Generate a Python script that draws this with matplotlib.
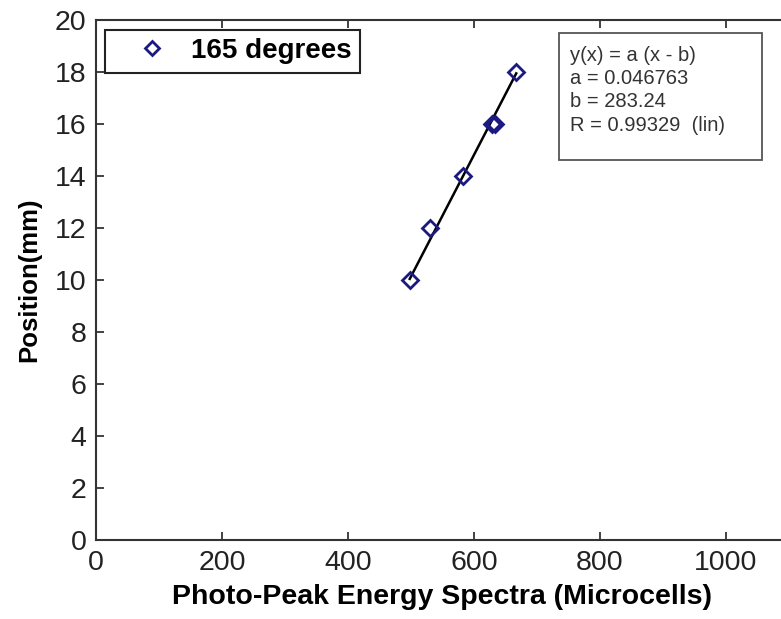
import numpy as np
import matplotlib
matplotlib.use("Agg")
import matplotlib.pyplot as plt
from matplotlib.patches import Rectangle
from matplotlib.lines import Line2D

# data
energy = [498, 530, 583, 629, 634, 667]
position = [10, 12, 14, 16, 16, 18]
series_name = "165 degrees"
fit_a = 0.046763
fit_b = 283.24
fit_r = 0.99329

x_ticks = [0, 200, 400, 600, 800, 1000]
y_ticks = [0, 2, 4, 6, 8, 10, 12, 14, 16, 18, 20]


def main():
    plt.rcParams['font.family'] = ['Liberation Sans', 'DejaVu Sans']

    fig = plt.figure(figsize=(7.81, 6.19), dpi=100)
    ax = fig.add_axes([96 / 781, 79 / 619, 693 / 781, 520 / 619])

    # fitted line y = a (x - b) over the data range
    xf = np.array([min(energy), max(energy)])
    ax.plot(xf, fit_a * (xf - fit_b), color='black', lw=1.8, zorder=2)
    ax.plot(energy, position, ls='none', marker='D', ms=8.5, mfc='none',
            mec='#1a1a80', mew=2, zorder=3)

    ax.set_xlim(0, 1100)
    ax.set_ylim(0, 20)
    ax.set_xticks(x_ticks)
    ax.set_yticks(y_ticks)
    ax.tick_params(direction='in', length=6, width=1.2, top=True, right=True,
                   labelsize=20.5, colors='#222222', pad=7)
    for s in ax.spines.values():
        s.set_linewidth(1.5)
        s.set_color('#333333')

    ax.set_xlabel("Photo-Peak Energy Spectra (Microcells)", fontsize=20.5,
                  fontweight='bold', labelpad=6)
    ax.set_ylabel("Position(mm)", fontsize=18.5, fontweight='bold', labelpad=10)

    handle = Line2D([], [], ls='none', marker='D', ms=7, mfc='none',
                    mec='#1a1a80', mew=2)
    leg = ax.legend([handle], [series_name], loc='upper left',
                    bbox_to_anchor=(0.013, 0.981), borderaxespad=0,
                    fancybox=False, framealpha=1, edgecolor='#222222',
                    prop={'size': 20, 'weight': 'bold'}, handlelength=2.78,
                    handletextpad=0.0, borderpad=0.3)
    leg.get_frame().set_linewidth(1.5)

    # fit results box
    ax.add_patch(Rectangle((0.668, 0.731), 0.293, 0.244,
                           transform=ax.transAxes, fill=True, fc='white',
                           ec='#555555', lw=1.3, zorder=4))
    txt = ("y(x) = a (x - b)\n"
           f"a = {fit_a}\n"
           f"b = {fit_b}\n"
           f"R = {fit_r}  (lin)")
    ax.text(0.684, 0.95, txt, transform=ax.transAxes, va='top', ha='left',
            fontsize=14.5, color='#333333', linespacing=1.28, zorder=5)

    fig.savefig("out.png", dpi=100)


if __name__ == "__main__":
    main()
